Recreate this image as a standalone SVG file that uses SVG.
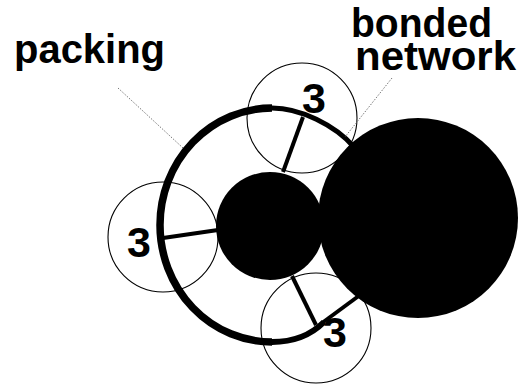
<svg xmlns="http://www.w3.org/2000/svg" width="518" height="386" viewBox="0 0 518 386">
<style>
.lbl{font-family:"Liberation Sans",Arial,sans-serif;font-weight:bold;font-size:40px;fill:#000}
.num{font-family:"Liberation Sans",Arial,sans-serif;font-weight:bold;font-size:43px;fill:#000;text-anchor:middle}
.thin{fill:none;stroke:#000;stroke-width:1.1}
.blk{fill:#000}
.lead{stroke:#777;stroke-width:1;stroke-dasharray:1.5 1.5;fill:none}
.spoke{stroke:#000;stroke-width:4;stroke-linecap:butt}
</style>
<rect width="518" height="386" fill="#fff"/>
<g id="site-top"><circle class="thin" cx="302" cy="118" r="55"/></g>
<g id="site-left"><circle class="thin" cx="163" cy="237" r="55"/></g>
<g id="site-bottom"><circle class="thin" cx="316" cy="328" r="55"/></g>
<g id="packing-shell">
<path d="M 272,108 A 112 117 0 0 0 272,342" fill="none" stroke="#000" stroke-width="7.5"/>
<path d="M 354,147 C 335,125 300,108 272,108" fill="none" stroke="#000" stroke-width="5"/>
<path d="M 272,342 C 295,342 312,334 324,322" fill="none" stroke="#000" stroke-width="6"/>
<path d="M 322,323 L 360,295" fill="none" stroke="#000" stroke-width="4"/>
</g>
<g id="connectors">
<line class="lead" x1="118" y1="88" x2="183" y2="148"/>
<line class="lead" x1="392" y1="78" x2="345" y2="137"/>
<line class="spoke" x1="303" y1="117" x2="283" y2="172"/>
<line class="spoke" x1="163" y1="238" x2="218" y2="230"/>
<line class="spoke" x1="292" y1="276" x2="316" y2="325"/>
</g>
<g id="atom-small"><circle class="blk" cx="270" cy="226" r="54"/></g>
<g id="atom-big"><circle class="blk" cx="418" cy="218" r="100"/></g>
<g id="label-top3"><text class="num" x="314" y="113">3</text></g>
<g id="label-left3"><text class="num" x="139" y="257">3</text></g>
<g id="label-bottom3"><text class="num" x="335" y="347">3</text></g>
<g id="label-packing"><text class="lbl" x="14" y="63" textLength="151" lengthAdjust="spacingAndGlyphs">packing</text></g>
<g id="label-bonded"><text class="lbl" x="351" y="37" textLength="141" lengthAdjust="spacingAndGlyphs">bonded</text>
<text class="lbl" x="355" y="70" textLength="161" lengthAdjust="spacingAndGlyphs">network</text></g>
</svg>
